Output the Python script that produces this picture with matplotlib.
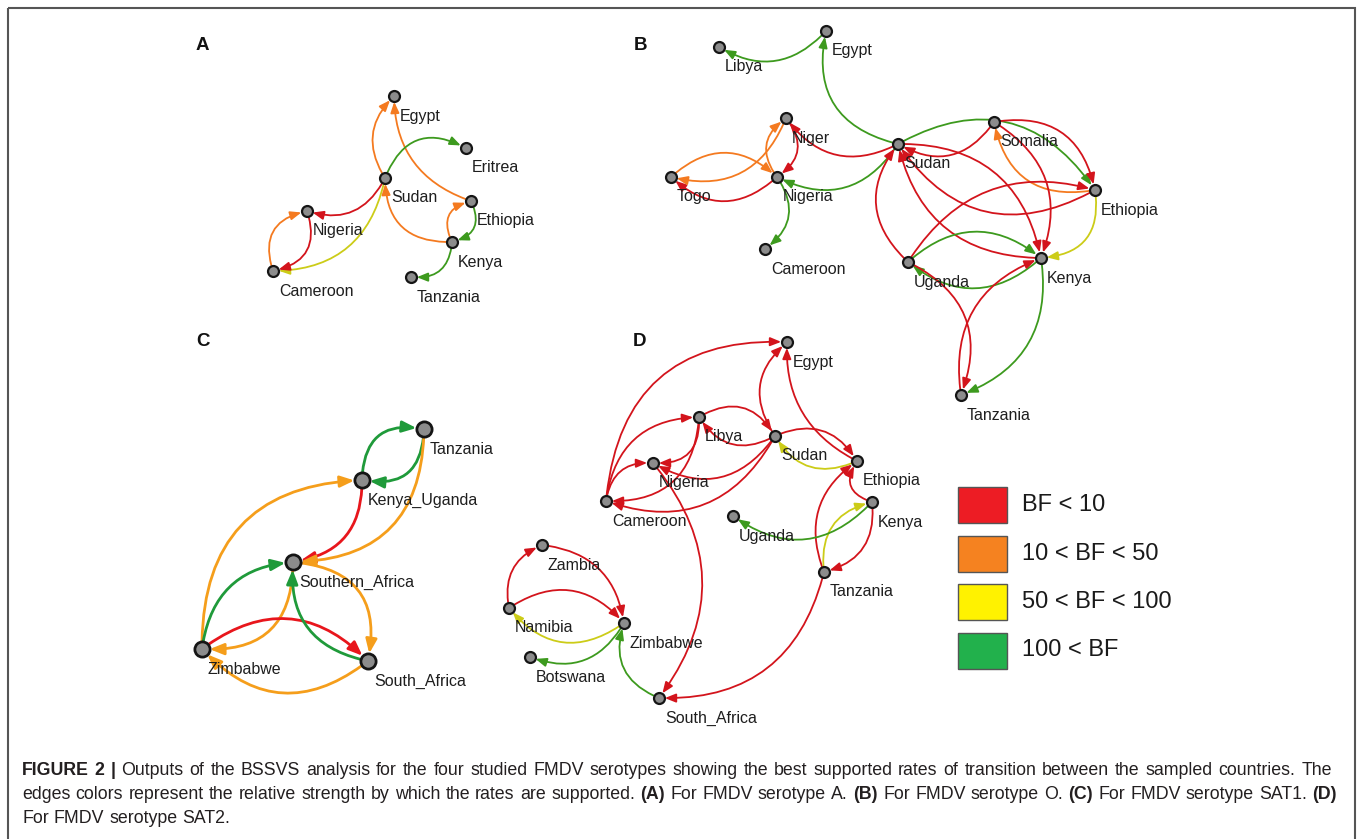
import matplotlib
matplotlib.use("Agg")
import matplotlib.pyplot as plt
from matplotlib.patches import FancyArrowPatch, Rectangle, ArrowStyle

plt.rcParams['font.family'] = ['Liberation Sans', 'DejaVu Sans']

# BF classes
legend_labels = ['BF < 10', '10 < BF < 50', '50 < BF < 100', '100 < BF']
legend_colors = ['#ed1c24', '#f58220', '#fff200', '#22b14c']
edge_colors = {'r': '#d3141c', 'o': '#f47a20', 'y': '#cccc18', 'g': '#3d9a1e'}
edge_colors_c = {'r': '#e8161c', 'o': '#f59e1b', 'y': '#cccc18', 'g': '#1f9a3a'}

# ---- panel A : serotype A ----
names_a = ['Egypt', 'Eritrea', 'Sudan', 'Ethiopia', 'Nigeria', 'Kenya', 'Cameroon', 'Tanzania']
x_a = [394, 466, 385, 471, 307, 452, 273, 411]
y_a = [96, 148, 178, 201, 211, 242, 271, 277]
src_a = ['Sudan', 'Ethiopia', 'Sudan', 'Sudan', 'Sudan', 'Nigeria', 'Cameroon', 'Kenya', 'Kenya', 'Ethiopia', 'Kenya']
dst_a = ['Egypt', 'Egypt', 'Eritrea', 'Nigeria', 'Cameroon', 'Cameroon', 'Nigeria', 'Sudan', 'Ethiopia', 'Kenya', 'Tanzania']
bf_a = ['o', 'o', 'g', 'r', 'y', 'r', 'o', 'o', 'o', 'g', 'g']
rad_a = [-0.4, -0.35, -0.55, -0.42, -0.4, -0.55, -0.55, -0.5, -0.6, -0.6, -0.5]

# ---- panel B : serotype O ----
names_b = ['Libya', 'Egypt', 'Niger', 'Togo', 'Nigeria', 'Cameroon', 'Sudan', 'Somalia',
           'Ethiopia', 'Uganda', 'Kenya', 'Tanzania']
x_b = [719, 826, 786, 671, 777, 765, 898, 994, 1095, 908, 1041, 961]
y_b = [47, 31, 118, 177, 177, 249, 144, 122, 190, 262, 258, 395]
src_b = ['Egypt', 'Sudan', 'Sudan', 'Sudan', 'Nigeria', 'Niger', 'Nigeria', 'Togo', 'Nigeria', 'Niger',
         'Sudan', 'Somalia', 'Ethiopia', 'Somalia', 'Somalia', 'Sudan', 'Ethiopia', 'Ethiopia',
         'Uganda', 'Uganda', 'Kenya', 'Uganda', 'Kenya', 'Uganda', 'Tanzania', 'Kenya']
dst_b = ['Libya', 'Egypt', 'Niger', 'Nigeria', 'Cameroon', 'Nigeria', 'Niger', 'Nigeria', 'Togo', 'Togo',
         'Ethiopia', 'Ethiopia', 'Somalia', 'Sudan', 'Kenya', 'Kenya', 'Sudan', 'Kenya',
         'Ethiopia', 'Sudan', 'Sudan', 'Kenya', 'Uganda', 'Tanzania', 'Kenya', 'Tanzania']
bf_b = ['g', 'g', 'r', 'g', 'g', 'r', 'o', 'o', 'r', 'o',
        'g', 'r', 'o', 'r', 'r', 'r', 'r', 'y',
        'r', 'r', 'r', 'g', 'g', 'r', 'r', 'g']
rad_b = [-0.4, -0.48, -0.42, -0.44, -0.48, -0.53, -0.5, -0.45, -0.45, -0.43,
         -0.45, -0.47, -0.48, -0.45, -0.41, -0.41, -0.45, -0.53,
         -0.37, -0.45, -0.39, -0.42, -0.42, -0.45, -0.4, -0.4]

# ---- panel C : serotype SAT1 ----
names_c = ['Tanzania', 'Kenya_Uganda', 'Southern_Africa', 'Zimbabwe', 'South_Africa']
x_c = [424, 362, 293, 202, 368]
y_c = [429, 480, 562, 649, 661]
src_c = ['Kenya_Uganda', 'Tanzania', 'Zimbabwe', 'Kenya_Uganda', 'Tanzania', 'Zimbabwe',
         'Southern_Africa', 'Zimbabwe', 'South_Africa', 'South_Africa', 'Southern_Africa']
dst_c = ['Tanzania', 'Kenya_Uganda', 'Kenya_Uganda', 'Southern_Africa', 'Southern_Africa',
         'Southern_Africa', 'Zimbabwe', 'South_Africa', 'Zimbabwe', 'Southern_Africa', 'South_Africa']
bf_c = ['g', 'g', 'o', 'r', 'o', 'g', 'o', 'r', 'o', 'g', 'o']
rad_c = [-0.57, -0.57, -0.48, -0.43, -0.48, -0.4, -0.52, -0.43, -0.45, -0.44, -0.55]

# ---- panel D : serotype SAT2 ----
names_d = ['Egypt', 'Libya', 'Sudan', 'Nigeria', 'Ethiopia', 'Cameroon', 'Kenya', 'Uganda',
           'Tanzania', 'Zambia', 'Namibia', 'Zimbabwe', 'Botswana', 'South_Africa']
x_d = [787, 699, 775, 653, 857, 606, 872, 733, 824, 542, 509, 624, 530, 659]
y_d = [342, 417, 436, 463, 461, 501, 502, 516, 572, 545, 608, 623, 657, 698]
src_d = ['Cameroon', 'Cameroon', 'Cameroon', 'Libya', 'Libya', 'Sudan', 'Sudan', 'Libya', 'Sudan',
         'Sudan', 'Ethiopia', 'Sudan', 'Ethiopia', 'Kenya', 'Tanzania', 'Tanzania', 'Kenya', 'Kenya',
         'Tanzania', 'Nigeria', 'Namibia', 'Zambia', 'Namibia', 'Zimbabwe', 'Zimbabwe', 'South_Africa']
dst_d = ['Egypt', 'Libya', 'Nigeria', 'Nigeria', 'Cameroon', 'Nigeria', 'Cameroon', 'Sudan', 'Libya',
         'Egypt', 'Egypt', 'Ethiopia', 'Sudan', 'Ethiopia', 'Ethiopia', 'Kenya', 'Uganda', 'Tanzania',
         'South_Africa', 'South_Africa', 'Zambia', 'Zimbabwe', 'Zimbabwe', 'Namibia', 'Botswana', 'Zimbabwe']
bf_d = ['r', 'r', 'r', 'r', 'r', 'r', 'r', 'r', 'r',
        'r', 'r', 'r', 'y', 'r', 'r', 'y', 'g', 'r',
        'r', 'r', 'r', 'r', 'r', 'y', 'g', 'g']
rad_d = [-0.47, -0.42, -0.45, -0.55, -0.48, -0.45, -0.42, -0.49, -0.46,
         -0.44, -0.32, -0.43, -0.44, -0.64, -0.39, -0.44, -0.43, -0.43,
         -0.4, -0.39, -0.4, -0.38, -0.43, -0.46, -0.42, -0.46]

caption_lines = [
    [('FIGURE 2 |', True),
     (' Outputs of the BSSVS analysis for the four studied FMDV serotypes showing the best '
      'supported rates of transition between the sampled countries. The', False)],
    [('edges colors represent the relative strength by which the rates are supported.', False),
     (' (A)', True), (' For FMDV serotype A.', False), (' (B)', True), (' For FMDV serotype O.', False),
     (' (C)', True), (' For FMDV serotype SAT1.', False), (' (D)', True)],
    [('For FMDV serotype SAT2.', False)],
]
caption_widths = [1310, 1315, None]   # justified lines, last one ragged

W, H = 1358, 839
fig = plt.figure(figsize=(W / 100, H / 100), dpi=100)
ax = fig.add_axes([0, 0, 1, 1])
ax.set_xlim(0, W)
ax.set_ylim(H, 0)
ax.axis('off')


def draw_panel(names, xs, ys, src, dst, bf, rad, colors, big=False):
    pos = dict(zip(names, zip(xs, ys)))
    lw = 2.0 if big else 1.3
    ms = 17 if big else 13
    shrink = 5.5 if big else 4.2
    style = ArrowStyle('-|>', head_length=0.5, head_width=0.2)
    for s, d, c, r in zip(src, dst, bf, rad):
        ax.add_patch(FancyArrowPatch(pos[s], pos[d], connectionstyle=f'arc3,rad={r}',
                                     arrowstyle=style, mutation_scale=ms, color=colors[c],
                                     lw=lw, shrinkA=shrink, shrinkB=shrink, zorder=2))
    ax.scatter(xs, ys, s=120 if big else 62, c='#8c8c8c', edgecolors='#151515',
               linewidths=2.0 if big else 1.6, zorder=3)
    for n, x, y in zip(names, xs, ys):
        ax.text(x + 6, y + 20, n, fontsize=11.5, ha='left', va='center', color='#1e1e1e', zorder=4)


draw_panel(names_a, x_a, y_a, src_a, dst_a, bf_a, rad_a, edge_colors)
draw_panel(names_b, x_b, y_b, src_b, dst_b, bf_b, rad_b, edge_colors)
draw_panel(names_c, x_c, y_c, src_c, dst_c, bf_c, rad_c, edge_colors_c, big=True)
draw_panel(names_d, x_d, y_d, src_d, dst_d, bf_d, rad_d, edge_colors)

# panel letters
for letter, lx, ly in [('A', 196, 45), ('B', 634, 45), ('C', 196, 341), ('D', 633, 342)]:
    ax.text(lx, ly, letter, fontsize=13.5, fontweight='bold', ha='left', va='center', color='#111111')

# legend
for i, (lab, col) in enumerate(zip(legend_labels, legend_colors)):
    top = 487 + i * 48.5
    ax.add_patch(Rectangle((958, top), 49, 36, facecolor=col, edgecolor='#555555', lw=1))
    ax.text(1022, top + 18, lab, fontsize=17, ha='left', va='center', color='#1a1a1a')

# frame
ax.add_patch(Rectangle((8, 8), 1347, 860, fill=False, edgecolor='#555555', lw=1.5))

# caption, drawn word by word so the lines can be justified
renderer = fig.canvas.get_renderer()


def put(x, y, txt, bold, size):
    return ax.text(x, y, txt, fontsize=size, fontweight='bold' if bold else 'normal',
                   ha='left', va='baseline', color='#231f20')


def width_of(txt, bold, size):
    t = put(0, 0, txt, bold, size)
    w = t.get_window_extent(renderer=renderer).width
    t.remove()
    return w


base = 11
line1 = ''.join(t for t, _ in caption_lines[0])
size = 0.975 * base * 1310 / (width_of('FIGURE 2 |', True, base) + width_of(line1[10:], False, base))
space = width_of('a a', False, size) - width_of('aa', False, size)

for k, runs in enumerate(caption_lines):
    words = [(w, b) for txt, b in runs for w in txt.split()]
    widths = [width_of(w, b, size) for w, b in words]
    target = caption_widths[k]
    gap = space if target is None else (target - sum(widths)) / (len(words) - 1)
    x = 22
    for (w, b), ww in zip(words, widths):
        put(x, 775 + 24 * k, w, b, size)
        x += ww + gap

fig.savefig('out.png', dpi=100)
